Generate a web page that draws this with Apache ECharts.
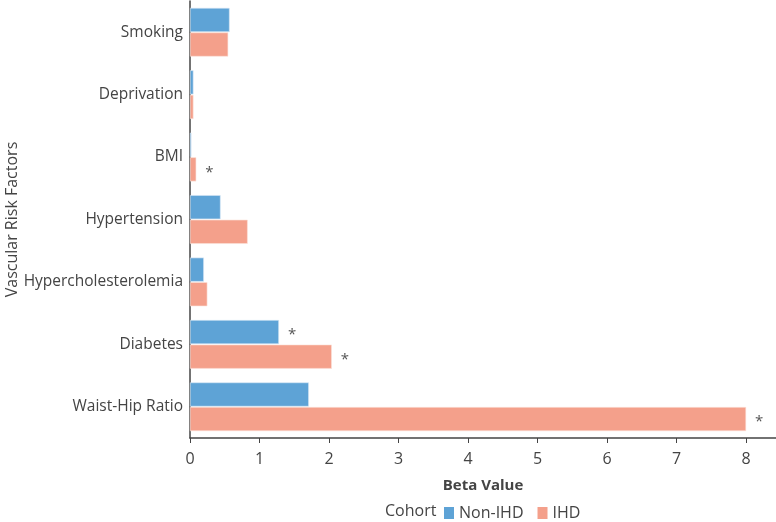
<!DOCTYPE html>
<html>
<head>
<meta charset="utf-8">
<script src="https://cdn.jsdelivr.net/npm/echarts@6/dist/echarts.min.js"></script>
<style>
  html, body { margin: 0; padding: 0; background: #fff; }
  #main { width: 776px; height: 522px; }
</style>
</head>
<body>
<div id="main"></div>
<script>
// categories, top to bottom
var categories = ['Smoking', 'Deprivation', 'BMI', 'Hypertension', 'Hypercholesterolemia', 'Diabetes', 'Waist-Hip Ratio'];
var nonIhd = [0.57, 0.05, 0.02, 0.44, 0.20, 1.28, 1.71];
var ihd = [0.55, 0.05, 0.09, 0.83, 0.25, 2.04, 8.00];
// significance markers
var nonIhdSig = [false, false, false, false, false, true, false];
var ihdSig = [false, false, true, false, false, true, true];
var xTicks = [0, 1, 2, 3, 4, 5, 6, 7, 8];

var textColor = '#444';
var fontFamily = 'Open Sans';

var chart = echarts.init(document.getElementById('main'), null, { renderer: 'canvas' });

function star(sig) {
  return {
    show: true,
    position: 'right',
    distance: 9,
    offset: [0, 3],
    color: '#555',
    fontSize: 15,
    fontFamily: fontFamily,
    formatter: function (p) { return sig[p.dataIndex] ? '*' : ''; }
  };
}

var option = {
  animation: false,
  textStyle: { fontFamily: fontFamily },
  grid: { left: 190, right: 0, top: 1, bottom: 84, containLabel: false, outerBoundsMode: 'none' },
  legend: {
    data: ['Non-IHD', 'IHD'],
    left: 439,
    top: 500,
    itemWidth: 10,
    itemHeight: 12,
    itemGap: 14,
    icon: 'rect',
    itemStyle: { borderWidth: 0 },
    textStyle: { color: textColor, fontSize: 16, fontFamily: fontFamily }
  },
  graphic: [{
    type: 'text',
    left: 385,
    top: 503,
    style: { text: 'Cohort', fill: textColor, fontSize: 16, fontFamily: fontFamily }
  }],
  xAxis: {
    type: 'value',
    min: 0,
    max: 8.43,
    interval: 1,
    name: 'Beta Value',
    nameLocation: 'middle',
    nameGap: 40,
    nameMoveOverlap: false,
    nameTextStyle: { color: textColor, fontSize: 15, fontWeight: 'bold', fontFamily: fontFamily },
    axisLine: { show: true, lineStyle: { color: '#444', width: 1.5 } },
    axisTick: { show: true, length: 5, customValues: xTicks, lineStyle: { color: '#444' } },
    axisLabel: { color: textColor, fontSize: 16, margin: 13, customValues: xTicks, fontFamily: fontFamily },
    splitLine: { show: false }
  },
  yAxis: {
    type: 'category',
    inverse: true,
    data: categories,
    name: 'Vascular Risk Factors',
    nameLocation: 'middle',
    nameGap: 170,
    nameMoveOverlap: false,
    nameTextStyle: { color: textColor, fontSize: 16, fontFamily: fontFamily },
    axisLine: { show: true, lineStyle: { color: '#444', width: 1.5 } },
    axisTick: { show: false },
    axisLabel: { color: textColor, fontSize: 15.5, margin: 7, fontFamily: fontFamily }
  },
  series: [{
    name: 'Non-IHD',
    type: 'bar',
    data: nonIhd,
    barGap: '2%',
    barCategoryGap: '22%',
    itemStyle: { color: '#5ea3d6', borderColor: '#dceaf6', borderWidth: 0.6 },
    label: star(nonIhdSig)
  }, {
    name: 'IHD',
    type: 'bar',
    data: ihd,
    barGap: '2%',
    barCategoryGap: '22%',
    itemStyle: { color: '#f4a08b', borderColor: '#fbe2da', borderWidth: 0.6 },
    label: star(ihdSig)
  }]
};

chart.setOption(option);
</script>
</body>
</html>
